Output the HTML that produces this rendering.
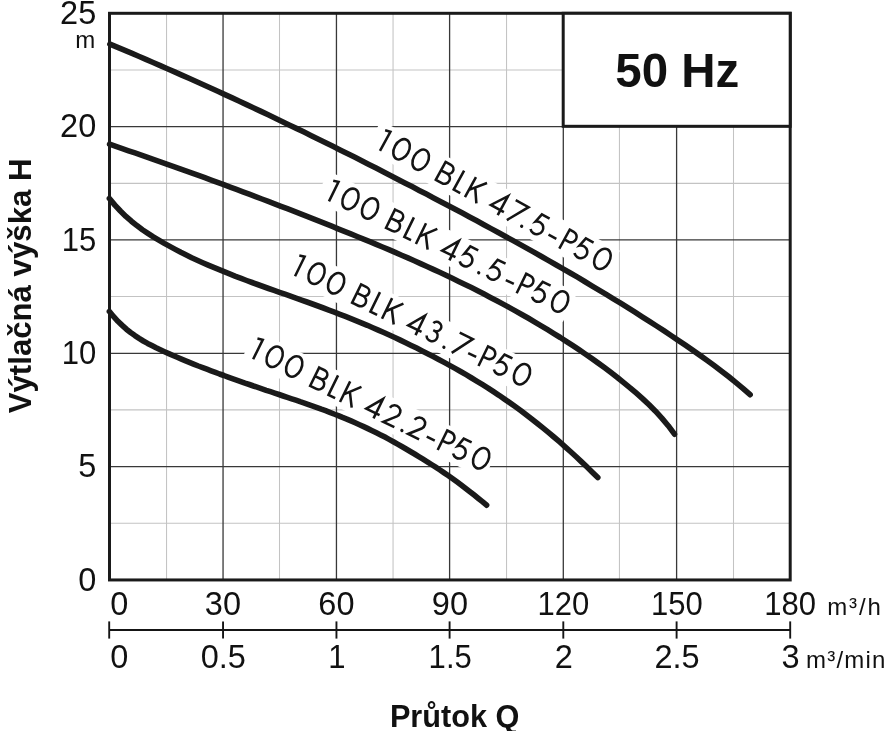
<!DOCTYPE html>
<html><head><meta charset="utf-8"><title>50 Hz</title>
<style>
html,body{margin:0;padding:0;background:#fff;}
body{width:889px;height:731px;overflow:hidden;font-family:"Liberation Sans",sans-serif;}
svg{display:block;filter:grayscale(1);}
text{font-family:"Liberation Sans",sans-serif;fill:#111;}
.num{font-size:32.7px;}
.unit{font-size:24px;}
.b{font-weight:bold;}
.lab text{font-size:32.5px;paint-order:stroke;stroke:#fff;stroke-width:8px;stroke-linejoin:round;}
.curve{fill:none;stroke:#1a1a1a;stroke-width:5.6;stroke-linecap:round;stroke-linejoin:round;}
</style></head><body>
<svg width="889" height="731" viewBox="0 0 889 731">
<rect x="0" y="0" width="889" height="731" fill="#fff"/>

<g stroke="#c3c3c3" stroke-width="1.05" fill="none">
<line x1="166.55" y1="13.3" x2="166.55" y2="579.95"/>
<line x1="279.5" y1="13.3" x2="279.5" y2="579.95"/>
<line x1="393.05" y1="13.3" x2="393.05" y2="579.95"/>
<line x1="506.55" y1="13.3" x2="506.55" y2="579.95"/>
<line x1="619.45" y1="13.3" x2="619.45" y2="579.95"/>
<line x1="733.5" y1="13.3" x2="733.5" y2="579.95"/>
<line x1="109.5" y1="69.9" x2="790.2" y2="69.9"/>
<line x1="109.5" y1="183.35" x2="790.2" y2="183.35"/>
<line x1="109.5" y1="296.45" x2="790.2" y2="296.45"/>
<line x1="109.5" y1="409.85" x2="790.2" y2="409.85"/>
<line x1="109.5" y1="523.2" x2="790.2" y2="523.2"/>
</g>
<g stroke="#383838" stroke-width="1.3" fill="none">
<line x1="223.05" y1="13.3" x2="223.05" y2="579.95"/>
<line x1="336.45" y1="13.3" x2="336.45" y2="579.95"/>
<line x1="449.6" y1="13.3" x2="449.6" y2="579.95"/>
<line x1="563.3" y1="13.3" x2="563.3" y2="579.95"/>
<line x1="676.6" y1="13.3" x2="676.6" y2="579.95"/>
<line x1="109.5" y1="126.55" x2="790.2" y2="126.55"/>
<line x1="109.5" y1="239.85" x2="790.2" y2="239.85"/>
<line x1="109.5" y1="353.3" x2="790.2" y2="353.3"/>
<line x1="109.5" y1="466.6" x2="790.2" y2="466.6"/>
</g>
<defs>
<g id="g1"><path d="M-5.3,-20.5 L0,-21.75 L0,0"/></g>
<g id="g0"><ellipse cx="0" cy="-11.7" rx="7.35" ry="10.8"/></g>
<g id="gB"><path d="M1.3,0 V-23 M1.3,-21.7 H7.4 A4.75,4.75 0 0 1 7.4,-12.2 H1.3 M7.4,-12.2 H8.2 A5.45,5.45 0 0 1 8.2,-1.3 H1.3"/></g>
<g id="gL"><path d="M1.3,-23 V-1.3 H8.7"/></g>
<g id="gK"><path d="M1.3,0 V-23 M1.3,-8.4 L13.9,-23 M5.7,-13.4 L14.3,0"/></g>
<g id="g4"><path d="M12.4,0 V-21.6 L1.6,-5.6 H16.4" stroke-miterlimit="10"/></g>
<g id="g7"><path d="M0,-21.7 H14.6 L1.7,0"/></g>
<g id="g5"><path d="M14.2,-21.7 H5.4 L3.2,-12.4 A6.4,6.4 0 1 1 2.4,-3.6"/></g>
<g id="g2"><path d="M1.3,-16.9 A5.8,5.8 0 1 1 11.45,-12.15 L1.6,-1.3 H13.9"/></g>
<g id="g3"><path d="M2.4,-18.6 A4.7,4.7 0 1 1 6.8,-12.3 H5.4 M6.8,-12.3 A5.5,5.5 0 1 1 1.8,-4.5"/></g>
<g id="gH"><path d="M-4.45,-7.1 H4.45"/></g>
<g id="gD"><circle cx="0" cy="-1.65" r="1.65" fill="#141414" stroke="none"/></g>
<g id="gP"><path d="M1.3,0 V-23 M1.3,-21.7 H5.9 A5.6,5.6 0 0 1 5.9,-10.5 H1.3"/></g>
</defs>
<rect transform="translate(379.98,150.84) rotate(28.62)" x="-13.5" y="-27.2" width="272.0" height="32.8" fill="#fff"/>
<rect transform="translate(328.97,201.38) rotate(26.08)" x="-13.5" y="-27.2" width="276.7" height="32.8" fill="#fff"/>
<rect transform="translate(295.05,276.23) rotate(26.07)" x="-13.5" y="-27.2" width="271.9" height="32.8" fill="#fff"/>
<rect transform="translate(253.15,359.28) rotate(26.17)" x="-10.5" y="-27.2" width="270.3" height="32.8" fill="#fff"/>
<g transform="translate(379.98,150.84) rotate(28.62)" fill="none" stroke="#141414" stroke-width="2.55" stroke-linecap="butt" stroke-linejoin="miter"><use href="#g1" x="0.00"/><use href="#g0" x="18.20"/><use href="#g0" x="40.00"/><use href="#gB" x="61.60"/><use href="#gL" x="82.00"/><use href="#gK" x="95.50"/><use href="#g4" x="121.70"/><use href="#g7" x="142.80"/><use href="#gD" x="160.50"/><use href="#g5" x="167.20"/><use href="#gH" x="192.60"/><use href="#gP" x="203.00"/><use href="#g5" x="217.30"/><use href="#g0" x="247.00"/></g>
<g transform="translate(328.97,201.38) rotate(26.08)" fill="none" stroke="#141414" stroke-width="2.55" stroke-linecap="butt" stroke-linejoin="miter"><use href="#g1" x="0.00"/><use href="#g0" x="18.20"/><use href="#g0" x="40.00"/><use href="#gB" x="61.60"/><use href="#gL" x="82.00"/><use href="#gK" x="95.50"/><use href="#g4" x="121.70"/><use href="#g5" x="141.40"/><use href="#gD" x="165.90"/><use href="#g5" x="171.80"/><use href="#gH" x="197.90"/><use href="#gP" x="207.66"/><use href="#g5" x="221.96"/><use href="#g0" x="251.66"/></g>
<g transform="translate(295.05,276.23) rotate(26.07)" fill="none" stroke="#141414" stroke-width="2.55" stroke-linecap="butt" stroke-linejoin="miter"><use href="#g1" x="0.00"/><use href="#g0" x="18.20"/><use href="#g0" x="40.00"/><use href="#gB" x="61.60"/><use href="#gL" x="82.00"/><use href="#gK" x="95.50"/><use href="#g4" x="121.70"/><use href="#g3" x="142.45"/><use href="#gD" x="164.90"/><use href="#g7" x="172.70"/><use href="#gH" x="193.70"/><use href="#gP" x="202.90"/><use href="#g5" x="217.20"/><use href="#g0" x="246.90"/></g>
<g transform="translate(253.15,359.28) rotate(26.17)" fill="none" stroke="#141414" stroke-width="2.55" stroke-linecap="butt" stroke-linejoin="miter"><use href="#g1" x="0.00"/><use href="#g0" x="18.20"/><use href="#g0" x="40.00"/><use href="#gB" x="61.60"/><use href="#gL" x="82.00"/><use href="#gK" x="95.50"/><use href="#g4" x="121.70"/><use href="#g2" x="142.75"/><use href="#gD" x="164.90"/><use href="#g2" x="170.35"/><use href="#gH" x="194.40"/><use href="#gP" x="204.30"/><use href="#g5" x="218.60"/><use href="#g0" x="248.30"/></g>
<path class="curve" d="M109.9,44.2 L117.1,47.2 L124.3,50.2 L131.5,53.2 L138.7,56.3 L145.9,59.4 L153.1,62.5 L160.3,65.6 L167.4,68.7 L174.6,71.9 L181.8,75.1 L189.0,78.3 L196.2,81.5 L203.4,84.7 L210.6,88.0 L217.8,91.3 L225.0,94.6 L232.2,97.9 L239.4,101.3 L246.6,104.6 L253.8,108.0 L261.0,111.4 L268.2,114.8 L275.3,118.2 L282.5,121.7 L289.7,125.2 L296.9,128.6 L304.1,132.1 L311.3,135.7 L318.5,139.2 L325.7,142.8 L332.9,146.3 L340.1,149.9 L347.3,153.5 L354.5,157.1 L361.7,160.8 L368.9,164.4 L376.1,168.1 L383.2,171.8 L390.4,175.4 L397.6,179.2 L404.8,182.9 L412.0,186.6 L419.2,190.4 L426.4,194.1 L433.6,197.9 L440.8,201.7 L448.0,205.5 L455.2,209.3 L462.4,213.1 L469.6,217.0 L476.8,220.8 L483.9,224.7 L491.1,228.6 L498.3,232.5 L505.5,236.5 L512.7,240.4 L519.9,244.4 L527.1,248.4 L534.3,252.4 L541.5,256.5 L548.7,260.6 L555.9,264.7 L563.1,268.9 L570.3,273.0 L577.5,277.2 L584.7,281.5 L591.8,285.8 L599.0,290.1 L606.2,294.4 L613.4,298.8 L620.6,303.2 L627.8,307.7 L635.0,312.2 L642.2,316.8 L649.4,321.4 L656.6,326.0 L663.8,330.7 L671.0,335.5 L678.2,340.3 L685.4,345.1 L692.6,350.1 L699.7,355.1 L706.9,360.2 L714.1,365.5 L721.3,370.9 L728.5,376.5 L735.7,382.4 L742.9,388.4 L750.1,394.7"/>
<path class="curve" d="M109.6,144.2 L115.9,146.4 L122.3,148.6 L128.6,150.8 L135.0,152.9 L141.3,155.1 L147.7,157.4 L154.0,159.6 L160.4,161.8 L166.7,164.1 L173.1,166.3 L179.4,168.6 L185.8,170.8 L192.1,173.1 L198.5,175.4 L204.8,177.7 L211.2,180.1 L217.5,182.4 L223.8,184.7 L230.2,187.1 L236.5,189.4 L242.9,191.8 L249.2,194.2 L255.6,196.6 L261.9,199.0 L268.3,201.4 L274.6,203.8 L281.0,206.3 L287.3,208.7 L293.7,211.2 L300.0,213.7 L306.4,216.2 L312.7,218.7 L319.1,221.2 L325.4,223.7 L331.8,226.2 L338.1,228.8 L344.4,231.3 L350.8,233.9 L357.1,236.5 L363.5,239.1 L369.8,241.7 L376.2,244.4 L382.5,247.0 L388.9,249.7 L395.2,252.4 L401.6,255.2 L407.9,257.9 L414.3,260.7 L420.6,263.6 L427.0,266.5 L433.3,269.4 L439.7,272.3 L446.0,275.3 L452.3,278.3 L458.7,281.4 L465.0,284.5 L471.4,287.6 L477.7,290.8 L484.1,294.1 L490.4,297.4 L496.8,300.7 L503.1,304.1 L509.5,307.6 L515.8,311.1 L522.2,314.7 L528.5,318.3 L534.9,322.1 L541.2,325.8 L547.6,329.7 L553.9,333.6 L560.3,337.5 L566.6,341.6 L572.9,345.7 L579.3,349.9 L585.6,354.2 L592.0,358.6 L598.3,363.1 L604.7,367.8 L611.0,372.6 L617.4,377.5 L623.7,382.6 L630.1,387.8 L636.4,393.2 L642.8,398.9 L649.1,404.8 L655.5,411.2 L661.8,418.1 L668.2,425.7 L674.5,434.2"/>
<path class="curve" d="M109.4,198.5 L114.9,205.1 L120.4,211.0 L125.9,216.4 L131.4,221.2 L136.9,225.6 L142.4,229.7 L147.9,233.4 L153.3,236.9 L158.8,240.2 L164.3,243.4 L169.8,246.4 L175.3,249.4 L180.8,252.3 L186.3,255.0 L191.7,257.7 L197.2,260.2 L202.7,262.7 L208.2,265.1 L213.7,267.4 L219.2,269.7 L224.7,271.9 L230.2,274.1 L235.6,276.3 L241.1,278.4 L246.6,280.5 L252.1,282.5 L257.6,284.5 L263.1,286.5 L268.6,288.5 L274.1,290.4 L279.5,292.3 L285.0,294.2 L290.5,296.2 L296.0,298.1 L301.5,300.1 L307.0,302.0 L312.5,304.0 L318.0,306.0 L323.4,308.0 L328.9,310.1 L334.4,312.2 L339.9,314.3 L345.4,316.4 L350.9,318.6 L356.4,320.8 L361.9,323.1 L367.3,325.3 L372.8,327.7 L378.3,330.1 L383.8,332.5 L389.3,335.0 L394.8,337.5 L400.3,340.1 L405.7,342.7 L411.2,345.4 L416.7,348.1 L422.2,350.9 L427.7,353.7 L433.2,356.5 L438.7,359.4 L444.2,362.4 L449.6,365.4 L455.1,368.4 L460.6,371.5 L466.1,374.7 L471.6,378.0 L477.1,381.3 L482.6,384.7 L488.1,388.1 L493.5,391.7 L499.0,395.3 L504.5,399.1 L510.0,402.9 L515.5,406.8 L521.0,410.8 L526.5,415.0 L532.0,419.2 L537.4,423.5 L542.9,427.9 L548.4,432.4 L553.9,437.0 L559.4,441.7 L564.9,446.6 L570.4,451.5 L575.9,456.5 L581.3,461.6 L586.8,466.8 L592.3,472.2 L597.8,477.6"/>
<path class="curve" d="M109.4,311.5 L113.7,316.7 L117.9,321.3 L122.2,325.4 L126.4,329.2 L130.6,332.5 L134.9,335.6 L139.1,338.4 L143.3,341.0 L147.6,343.4 L151.8,345.6 L156.1,347.8 L160.3,349.8 L164.5,351.7 L168.8,353.6 L173.0,355.5 L177.2,357.3 L181.5,359.1 L185.7,360.8 L190.0,362.6 L194.2,364.3 L198.4,366.0 L202.7,367.6 L206.9,369.2 L211.1,370.8 L215.4,372.4 L219.6,374.0 L223.9,375.5 L228.1,377.1 L232.3,378.6 L236.6,380.1 L240.8,381.6 L245.0,383.1 L249.3,384.5 L253.5,386.0 L257.8,387.4 L262.0,388.8 L266.2,390.3 L270.5,391.7 L274.7,393.1 L279.0,394.5 L283.2,396.0 L287.4,397.4 L291.7,398.8 L295.9,400.2 L300.1,401.7 L304.4,403.1 L308.6,404.6 L312.9,406.1 L317.1,407.6 L321.3,409.2 L325.6,410.7 L329.8,412.3 L334.0,414.0 L338.3,415.6 L342.5,417.4 L346.8,419.1 L351.0,420.9 L355.2,422.8 L359.5,424.7 L363.7,426.6 L367.9,428.6 L372.2,430.7 L376.4,432.8 L380.7,434.9 L384.9,437.1 L389.1,439.4 L393.4,441.7 L397.6,444.1 L401.8,446.5 L406.1,449.0 L410.3,451.5 L414.6,454.0 L418.8,456.6 L423.0,459.2 L427.3,461.8 L431.5,464.5 L435.7,467.2 L440.0,470.0 L444.2,472.9 L448.5,475.8 L452.7,478.8 L456.9,481.8 L461.2,485.0 L465.4,488.2 L469.6,491.4 L473.9,494.8 L478.1,498.2 L482.4,501.6 L486.6,505.2"/>
<rect x="109.5" y="13.3" width="680.70" height="566.65" fill="none" stroke="#1a1a1a" stroke-width="3"/>
<rect x="563.2" y="13.3" width="227.00" height="113.00" fill="#fff" stroke="#1a1a1a" stroke-width="3"/>
<text class="b" x="677.3" y="86.8" font-size="47.8" text-anchor="middle" textLength="124" lengthAdjust="spacingAndGlyphs">50 Hz</text>
<text class="num" transform="translate(96.3,590.6) scale(0.995,1)" text-anchor="end">0</text>
<text class="num" transform="translate(96.3,477.2) scale(0.995,1)" text-anchor="end">5</text>
<text class="num" transform="translate(96.3,363.9) scale(0.95,1)" text-anchor="end">10</text>
<text class="num" transform="translate(96.3,250.6) scale(0.95,1)" text-anchor="end">15</text>
<text class="num" transform="translate(96.3,137.2) scale(0.995,1)" text-anchor="end">20</text>
<text class="num" transform="translate(96.3,23.7) scale(0.995,1)" text-anchor="end">25</text>
<text class="unit" x="95.2" y="47.9" text-anchor="end">m</text>
<text class="num" transform="translate(110.3,614.8) scale(0.995,1)">0</text>
<text class="num" transform="translate(222.9,614.8) scale(0.995,1)" text-anchor="middle">30</text>
<text class="num" transform="translate(336.4,614.8) scale(0.995,1)" text-anchor="middle">60</text>
<text class="num" transform="translate(449.9,614.8) scale(0.995,1)" text-anchor="middle">90</text>
<text class="num" transform="translate(563.3,614.8) scale(0.95,1)" text-anchor="middle">120</text>
<text class="num" transform="translate(676.8,614.8) scale(0.95,1)" text-anchor="middle">150</text>
<text class="num" transform="translate(790.2,614.8) scale(0.95,1)" text-anchor="middle">180</text>
<text class="unit" x="827.2" y="614.6" textLength="53.6" lengthAdjust="spacing">m³/h</text>
<g stroke="#151515" stroke-width="1.9" fill="none"><line x1="109.0" y1="630" x2="790.2" y2="630"/>
<line x1="109.20" y1="621.4" x2="109.20" y2="638.6"/>
<line x1="223.05" y1="621.4" x2="223.05" y2="638.6"/>
<line x1="336.45" y1="621.4" x2="336.45" y2="638.6"/>
<line x1="449.60" y1="621.4" x2="449.60" y2="638.6"/>
<line x1="563.30" y1="621.4" x2="563.30" y2="638.6"/>
<line x1="676.60" y1="621.4" x2="676.60" y2="638.6"/>
<line x1="790.20" y1="621.4" x2="790.20" y2="638.6"/>
</g>
<text class="num" transform="translate(110.3,667.9) scale(0.995,1)">0</text>
<text class="num" transform="translate(223.3,667.9) scale(0.995,1)" text-anchor="middle">0.5</text>
<text class="num" transform="translate(336.8,667.9) scale(0.95,1)" text-anchor="middle">1</text>
<text class="num" transform="translate(450.2,667.9) scale(0.95,1)" text-anchor="middle">1.5</text>
<text class="num" transform="translate(563.7,667.9) scale(0.995,1)" text-anchor="middle">2</text>
<text class="num" transform="translate(677.1,667.9) scale(0.995,1)" text-anchor="middle">2.5</text>
<text class="num" transform="translate(790.6,667.9) scale(0.995,1)" text-anchor="middle">3</text>
<text class="unit" x="806.1" y="667.6" textLength="79.2" lengthAdjust="spacing">m³/min</text>
<text class="b" x="389.9" y="726.9" font-size="31" textLength="129.5" lengthAdjust="spacingAndGlyphs">Průtok Q</text>
<text class="b" transform="translate(31,413.3) rotate(-90)" font-size="31.3" textLength="254.8" lengthAdjust="spacingAndGlyphs">Výtlačná výška H</text>
</svg></body></html>
